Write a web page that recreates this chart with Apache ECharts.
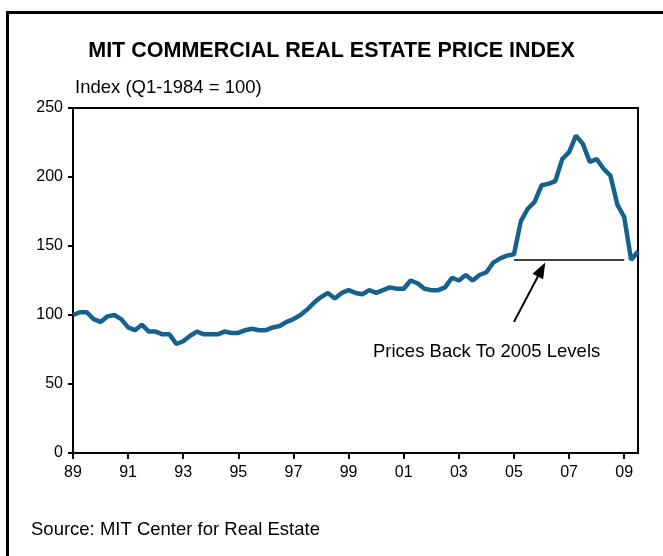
<!DOCTYPE html>
<html>
<head>
<meta charset="utf-8">
<script src="https://cdn.jsdelivr.net/npm/echarts@6/dist/echarts.min.js"></script>
<style>
  html, body { margin: 0; padding: 0; background: #fff; }
  #main { width: 663px; height: 556px; }
</style>
</head>
<body>
<div id="main"></div>
<script>
// quarterly index, 1989Q1 .. 2009Q3
var firstYear = 1989
var values = [
  100, 102, 102, 97, 95, 99, 100, 97,      // 89-90
  91, 89, 93, 88, 88, 86, 86, 79,          // 91-92
  81, 85, 88, 86, 86, 86, 88, 87,          // 93-94
  87, 89, 90, 89, 89, 91, 92, 95,          // 95-96
  97, 100, 104, 109, 113, 116, 112, 116,   // 97-98
  118, 116, 115, 118, 116, 118, 120, 119,  // 99-00
  119, 125, 123, 119, 118, 118, 120, 127,  // 01-02
  125, 129, 125, 129, 131, 138, 141, 143,  // 03-04
  144, 168, 177, 182, 194, 195, 197, 213,  // 05-06
  218, 230, 224, 211, 213, 206, 201, 180,  // 07-08
  171, 140, 146                            // 09
]
var tickYears = ['89', '91', '93', '95', '97', '99', '01', '03', '05', '07', '09']
var levelLine = {from: '2005Q1', to: '2009Q1', value: 140}
var arrowLine = {from: ['2005Q1', 95], to: ['2006Q1', 133]}

var quarters = []
for (var i = 0; i < values.length; i++) {
  quarters.push((firstYear + Math.floor(i / 4)) + 'Q' + (i % 4 + 1))
}

var font = 'Liberation Sans, Arial, sans-serif'
var chart = echarts.init(document.getElementById('main'))
chart.setOption({
  backgroundColor: '#fff',
  animation: false,
  title: {
    text: 'MIT COMMERCIAL REAL ESTATE PRICE INDEX',
    left: 'center',
    top: 35,
    textStyle: {fontFamily: font, fontSize: 21.5, fontWeight: 'bold', color: '#000'}
  },
  grid: {
    left: 73, top: 108, right: 25, bottom: 103,
    show: true, borderColor: '#000', borderWidth: 2
  },
  xAxis: {
    type: 'category',
    boundaryGap: false,
    data: quarters,
    axisLine: {lineStyle: {color: '#000', width: 2}},
    axisTick: {interval: 7, length: 6, lineStyle: {color: '#000', width: 2}},
    axisLabel: {
      interval: 7, margin: 12, color: '#000', fontFamily: font, fontSize: 16,
      formatter: function (v, idx) { return tickYears[idx / 8] }
    },
    splitLine: {show: false}
  },
  yAxis: {
    type: 'value',
    min: 0, max: 250, interval: 50,
    axisLine: {show: true, lineStyle: {color: '#000', width: 2}},
    axisTick: {show: true, length: 5, lineStyle: {color: '#000', width: 2}},
    axisLabel: {margin: 10, color: '#000', fontFamily: font, fontSize: 16},
    splitLine: {show: false}
  },
  series: [{
    type: 'line',
    data: values,
    symbol: 'none',
    lineStyle: {color: '#17618f', width: 4.5},
    z: 3,
    markLine: {
      silent: true,
      animation: false,
      symbol: ['none', 'none'],
      label: {show: false},
      lineStyle: {color: '#000', width: 1.5, type: 'solid'},
      data: [
        [{coord: [levelLine.from, levelLine.value]}, {coord: [levelLine.to, levelLine.value]}],
        [{coord: arrowLine.from, symbol: 'none'},
         {coord: arrowLine.to, symbol: 'triangle', symbolSize: [12, 16], lineStyle: {width: 2}}]
      ]
    }
  }],
  graphic: [
    {type: 'rect', left: 5, top: 10, shape: {width: 700, height: 600},
      style: {fill: 'none', stroke: '#000', lineWidth: 3}, silent: true},
    {type: 'text', left: 75, top: 78,
      style: {text: 'Index (Q1-1984 = 100)', font: '18.5px ' + font, fill: '#000'}},
    {type: 'text', left: 373, top: 342,
      style: {text: 'Prices Back To 2005 Levels', font: '18.5px ' + font, fill: '#000'}},
    {type: 'text', left: 31, top: 520,
      style: {text: 'Source: MIT Center for Real Estate', font: '18.5px ' + font, fill: '#000'}}
  ]
})
</script>
</body>
</html>
